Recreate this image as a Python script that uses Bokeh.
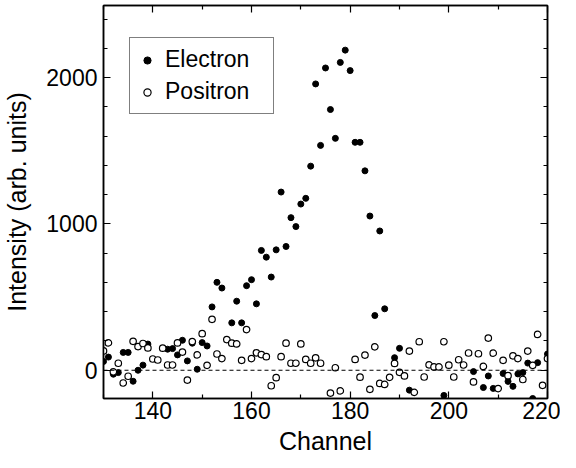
import math
from bokeh.plotting import figure
from bokeh.models import LinearAxis, FixedTicker, Range1d, Span, Legend, LegendItem, ColumnDataSource
from bokeh.embed import file_html
from bokeh.resources import INLINE

nan = float("nan")

channels = list(range(130, 221))

electron = [
    60, 90, -27, -16, 122, 122, -75, 0, 35, 179,          # 130-139
    nan, nan, nan, 144, 148, 105, 205, 64, 185, 7,        # 140-149
    189, 166, 433, 601, 562, nan, 324, 472, 324, 578,     # 150-159
    619, 454, 819, 773, 637, 823, 1218, 846, 1043, 982,   # 160-169
    1136, 1175, 1395, 1957, 1537, 2066, 1782, 1585, 2104, 2188,  # 170-179
    2048, 1558, 1558, 1363, 1054, 374, 952, 420, nan, 86,  # 180-189
    150, nan, -136, nan, nan, nan, nan, nan, nan, -172,    # 190-199
    nan, nan, nan, nan, nan, -9, nan, -118, -39, -124,     # 200-209
    nan, -22, -76, -110, -25, -16, 49, -193, 52, nan,      # 210-219
    111,                                                   # 220
]

positron = [
    132, 187, -11, 48, -87, -41, 198, 162, 183, 153,       # 130-139
    77, 70, 151, 36, 36, 187, 124, -67, 196, 105,          # 140-149
    250, 34, 348, 111, 80, 210, 185, 180, 68, 278,         # 150-159
    80, 119, 107, 93, -106, -51, 93, 185, 48, 48,          # 160-169
    180, 74, 48, 85, 48, nan, -156, 17, -141, nan,         # 170-179
    nan, 74, -47, 104, -130, 160, -90, -97, -48, 47,       # 180-189
    -14, -39, 131, -151, 195, -46, 37, 23, 23, 195,        # 190-199
    35, -46, 72, 36, 118, -80, 113, 26, 220, 117,          # 200-209
    -125, 68, -37, 99, 80, -63, 131, 34, 245, -103,        # 210-219
    80,                                                    # 220
]

x_major = [140, 160, 180, 200, 220]
x_minor = [130, 150, 170, 190, 210]
y_major = [0, 1000, 2000]
y_minor = [-200, 200, 400, 600, 800, 1200, 1400, 1600, 1800, 2200, 2400]

FONT = "Liberation Sans"

p = figure(width=560, height=460, output_backend="svg", toolbar_location=None,
           x_range=Range1d(130, 220), y_range=Range1d(-193, 2493),
           min_border_left=97, min_border_right=13, min_border_top=5, min_border_bottom=62)
p.grid.visible = False
p.outline_line_color = "black"
p.outline_line_width = 1.5
p.background_fill_color = "white"
p.border_fill_color = "white"

def style_axis(ax, labels=True, ticks=None):
    ax.axis_line_color = "black"
    ax.axis_line_width = 1.5
    ax.major_tick_in = 7
    ax.major_tick_out = 0
    ax.minor_tick_in = 4
    ax.minor_tick_out = 0
    ax.major_tick_line_color = "black"
    ax.minor_tick_line_color = "black"
    ax.major_tick_line_width = 1.2
    ax.minor_tick_line_width = 1.2
    if labels:
        ax.major_label_text_font = FONT
        ax.major_label_text_font_size = "23px"
        ax.major_label_text_color = "black"
        ax.axis_label_text_font = FONT
        ax.axis_label_text_font_size = "25px"
        ax.axis_label_text_font_style = "normal"
        ax.axis_label_text_color = "black"
    else:
        ax.major_label_overrides = {t: "" for t in ticks}
        ax.major_label_text_font_size = "1px"
        ax.major_label_standoff = 0

xt = FixedTicker(ticks=x_major, minor_ticks=x_minor)
yt = FixedTicker(ticks=y_major, minor_ticks=y_minor)

p.xaxis.ticker = xt
p.yaxis.ticker = yt
p.xaxis.axis_label = "Channel"
p.yaxis.axis_label = "Intensity (arb. units)"
style_axis(p.xaxis[0])
style_axis(p.yaxis[0])
p.xaxis.major_label_standoff = 3
p.xaxis.axis_label_standoff = 5
p.yaxis.major_label_standoff = 6
p.yaxis.axis_label_standoff = 12

top = LinearAxis(ticker=xt)
style_axis(top, labels=False, ticks=x_major)
p.add_layout(top, "above")
right = LinearAxis(ticker=yt)
style_axis(right, labels=False, ticks=y_major)
p.add_layout(right, "right")

zero = Span(location=0, dimension="width", line_color="black", line_dash="4 3", line_width=1)
p.add_layout(zero)

src = ColumnDataSource(dict(ch=channels, e=electron, pz=positron))
r_e = p.scatter("ch", "e", source=src, size=6, marker="circle",
                fill_color="black", line_color="black")
r_p = p.scatter("ch", "pz", source=src, size=6.5, marker="circle",
                fill_color="white", line_color="black", line_width=1.2)

legend = Legend(items=[LegendItem(label="Electron", renderers=[r_e]),
                       LegendItem(label="Positron", renderers=[r_p])],
                location=(26, 284))
legend.label_text_font = FONT
legend.label_text_font_size = "23px"
legend.label_text_color = "black"
legend.border_line_color = "black"
legend.border_line_width = 1.2
legend.padding = 8
legend.spacing = 5
legend.label_height = 24
legend.glyph_height = 24
legend.glyph_width = 18
legend.label_standoff = 9
legend.label_width = 100
legend.margin = 0
legend.background_fill_alpha = 1
p.add_layout(legend, "center")

open("out.html", "w").write(file_html(p, INLINE))
